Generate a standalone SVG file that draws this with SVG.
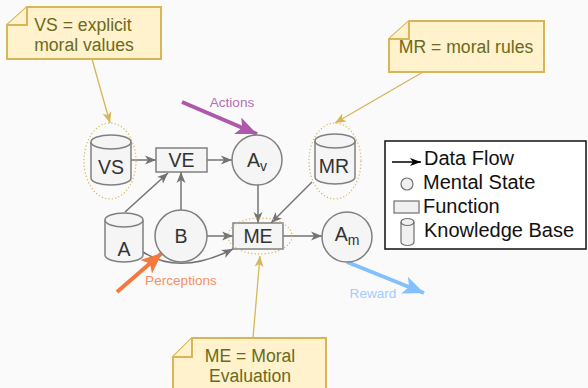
<svg xmlns="http://www.w3.org/2000/svg" width="588" height="388" viewBox="0 0 588 388">
  <style>
    .node { fill: #f5f5f5; stroke: #808080; stroke-width: 1.5; }
    .lbl { font-family: "Liberation Sans", Arial, sans-serif; font-size: 19.5px; fill: #333333; text-anchor: middle; }
    .sub { font-size: 14px; }
    .edge { fill: none; stroke: #737373; stroke-width: 1.5; marker-end: url(#arrGray); }
    .note { fill: #fff2cc; stroke: #d6b656; stroke-width: 2; stroke-linejoin: miter; }
    .noteTxt { font-family: "Liberation Sans", Arial, sans-serif; font-size: 17.6px; fill: #6b6a1c; text-anchor: middle; }
    .pointer { fill: none; stroke: #d6b656; stroke-width: 1.3; marker-end: url(#arrGold); }
    .halo { fill: none; stroke: #d6b656; stroke-width: 1.2; stroke-dasharray: 1.2 2.2; }
    .evLbl { font-family: "Liberation Sans", Arial, sans-serif; font-size: 13.6px; text-anchor: middle; }
    .legTxt { font-family: "Liberation Sans", Arial, sans-serif; font-size: 20px; fill: #111111; }
  </style>
  <defs>
    <marker id="arrGray" markerUnits="userSpaceOnUse" markerWidth="12" markerHeight="10" refX="11" refY="5" orient="auto">
      <path d="M0,0.5 L11,5 L0,9.5 L3,5 Z" fill="#737373"/>
    </marker>
    <marker id="arrGold" markerUnits="userSpaceOnUse" markerWidth="12" markerHeight="10" refX="11" refY="5" orient="auto">
      <path d="M0,0.5 L11,5 L0,9.5 L3,5 Z" fill="#d6b656"/>
    </marker>
    <marker id="arrBlack" markerUnits="userSpaceOnUse" markerWidth="12" markerHeight="10" refX="11" refY="5" orient="auto">
      <path d="M0,1 L11,5 L0,9 L3,5 Z" fill="#000000"/>
    </marker>
    <marker id="arrPurple" markerUnits="userSpaceOnUse" markerWidth="22" markerHeight="18" refX="21" refY="9" orient="auto">
      <path d="M0,0 L21,9 L0,18 L5,9 Z" fill="#ad58ab"/>
    </marker>
    <marker id="arrOrange" markerUnits="userSpaceOnUse" markerWidth="22" markerHeight="18" refX="21" refY="9" orient="auto">
      <path d="M0,0 L21,9 L0,18 L5,9 Z" fill="#f37a3c"/>
    </marker>
    <marker id="arrBlue" markerUnits="userSpaceOnUse" markerWidth="22" markerHeight="18" refX="21" refY="9" orient="auto">
      <path d="M0,0 L21,9 L0,18 L5,9 Z" fill="#82c0ff"/>
    </marker>
  </defs>

  <rect x="0" y="0" width="588" height="388" fill="#fafafa"/>

  <!-- connectors -->
  <g id="connectors">
    <line class="edge" x1="131" y1="160" x2="156" y2="160"/>
    <line class="edge" x1="207" y1="160" x2="232" y2="160"/>
    <line class="edge" x1="125" y1="212" x2="168" y2="173"/>
    <line class="edge" x1="181" y1="210" x2="181" y2="172"/>
    <line class="edge" x1="258" y1="185" x2="258" y2="223"/>
    <line class="edge" x1="312" y1="182" x2="271" y2="223"/>
    <line class="edge" x1="207" y1="236" x2="233" y2="236"/>
    <path class="edge" d="M143,252 Q180,276 233,249"/>
    <line class="edge" x1="283" y1="236" x2="322" y2="236"/>

    <!-- external events -->
    <line x1="182" y1="102" x2="257" y2="134" stroke="#ad58ab" stroke-width="4" marker-end="url(#arrPurple)"/>
    <line x1="117" y1="292" x2="162" y2="253" stroke="#f37a3c" stroke-width="4" marker-end="url(#arrOrange)"/>
    <line x1="347" y1="262" x2="424" y2="293" stroke="#82c0ff" stroke-width="4" marker-end="url(#arrBlue)"/>

    <!-- note pointers -->
    <line class="pointer" x1="92" y1="59" x2="110" y2="123"/>
    <line class="pointer" x1="423" y1="72" x2="335" y2="123"/>
    <line class="pointer" x1="253" y1="338" x2="260" y2="256"/>
  </g>

  <!-- event labels -->
  <text class="evLbl" x="232" y="107" fill="#b46fb2">Actions</text>
  <text class="evLbl" x="181" y="285" fill="#f58f66">Perceptions</text>
  <text class="evLbl" x="373" y="298" fill="#a3cdfb">Reward</text>

  <!-- knowledge base VS -->
  <g id="VS">
    <ellipse class="halo" cx="110" cy="161" rx="26" ry="38"/>
    <path class="node" d="M91,142 A20,7 0 0 1 131,142 L131,178 A20,7 0 0 1 91,178 Z"/>
    <path class="node" d="M91,142 A20,7 0 0 0 131,142" fill="none"/>
    <text class="lbl" x="111" y="174">VS</text>
  </g>

  <!-- value evaluation function VE -->
  <g id="VE">
    <rect class="node" x="156" y="148" width="51" height="24"/>
    <text class="lbl" x="181.5" y="167">VE</text>
  </g>

  <!-- mental state Av -->
  <g id="Av">
    <circle class="node" cx="257" cy="160" r="25"/>
    <text class="lbl" x="257" y="167">A<tspan class="sub" dy="4">v</tspan></text>
  </g>

  <!-- knowledge base MR -->
  <g id="MR">
    <ellipse class="halo" cx="335" cy="161" rx="26" ry="38"/>
    <path class="node" d="M315,141 A20,7 0 0 1 355,141 L355,177 A20,7 0 0 1 315,177 Z"/>
    <path class="node" d="M315,141 A20,7 0 0 0 355,141" fill="none"/>
    <text class="lbl" x="334" y="173">MR</text>
  </g>

  <!-- knowledge base A -->
  <g id="A">
    <path class="node" d="M105,220 A19,7 0 0 1 143,220 L143,255 A19,7 0 0 1 105,255 Z"/>
    <path class="node" d="M105,220 A19,7 0 0 0 143,220" fill="none"/>
    <text class="lbl" x="124" y="256">A</text>
  </g>

  <!-- mental state B -->
  <g id="B">
    <circle class="node" cx="181" cy="236" r="26"/>
    <text class="lbl" x="181" y="243">B</text>
  </g>

  <!-- moral evaluation function ME -->
  <g id="ME">
    <rect class="node" x="233" y="223" width="50" height="26"/>
    <ellipse class="halo" cx="260" cy="236" rx="32" ry="18"/>
    <text class="lbl" x="258" y="243">ME</text>
  </g>

  <!-- mental state Am -->
  <g id="Am">
    <circle class="node" cx="347" cy="237" r="25"/>
    <text class="lbl" x="347" y="241">A<tspan class="sub" dy="4">m</tspan></text>
  </g>

  <!-- notes -->
  <g id="noteVS">
    <path class="note" d="M27,7 L161,7 L161,59 L7,59 L7,25 Z"/>
    <path class="note" d="M7,25 L27,25 L27,7" fill="none"/>
    <text class="noteTxt" x="83" y="31">VS = explicit</text>
    <text class="noteTxt" x="84" y="51">moral values</text>
  </g>
  <g id="noteMR">
    <path class="note" d="M409,21 L544,21 L544,72 L389,72 L389,39 Z"/>
    <path class="note" d="M389,39 L409,39 L409,21" fill="none"/>
    <text class="noteTxt" x="466" y="53">MR = moral rules</text>
  </g>
  <g id="noteME">
    <path class="note" d="M192,338 L326,338 L326,396 L173,396 L173,357 Z"/>
    <path class="note" d="M173,357 L192,357 L192,338" fill="none"/>
    <text class="noteTxt" x="250" y="362">ME = Moral</text>
    <text class="noteTxt" x="250" y="382">Evaluation</text>
  </g>

  <!-- legend -->
  <g id="legend">
    <rect x="385" y="141" width="201" height="108" fill="#ffffff" stroke="#111111" stroke-width="1.5"/>
    <line x1="392" y1="162" x2="421" y2="162" stroke="#000000" stroke-width="1.5" marker-end="url(#arrBlack)"/>
    <circle cx="407" cy="184" r="6" fill="#f0f0f0" stroke="#707070" stroke-width="1.2"/>
    <rect x="394" y="201" width="25" height="12" fill="#f0f0f0" stroke="#707070" stroke-width="1.2"/>
    <path d="M401,222 A6.5,3.5 0 0 1 414,222 L414,242 A6.5,3.5 0 0 1 401,242 Z" fill="#f0f0f0" stroke="#707070" stroke-width="1.2"/>
    <path d="M401,222 A6.5,3.5 0 0 0 414,222" fill="none" stroke="#707070" stroke-width="1.2"/>
    <text class="legTxt" x="424" y="165">Data Flow</text>
    <text class="legTxt" x="423" y="189">Mental State</text>
    <text class="legTxt" x="423" y="213">Function</text>
    <text class="legTxt" x="424" y="237">Knowledge Base</text>
  </g>
</svg>
